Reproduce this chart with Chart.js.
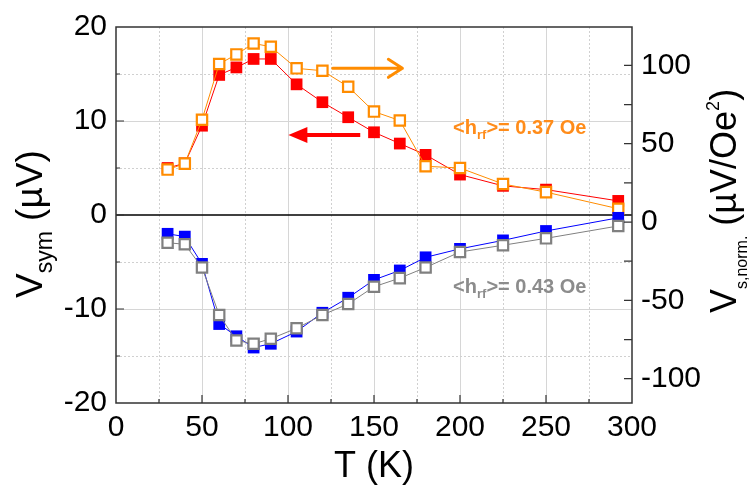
<!DOCTYPE html>
<html>
<head>
<meta charset="utf-8">
<script src="https://cdn.jsdelivr.net/npm/chart.js@4/dist/chart.umd.min.js"></script>
<style>
  html, body { margin: 0; padding: 0; background: #fff; }
  canvas { display: block; }
</style>
</head>
<body>
<canvas id="chart" width="752" height="488"></canvas>
<script>
// temperatures (K)
const temps = [30, 40, 50, 60, 70, 80, 90, 105, 120, 135, 150, 165, 180, 200, 225, 250, 292];

// V_sym (uV), left axis
const vsymRed = [5.0, 5.5, 9.5, 14.9, 15.7, 16.6, 16.6, 13.9, 12.0, 10.4, 8.8, 7.6, 6.4, 4.3, 3.1, 2.7, 1.5];
const vsymBlue = [-2.0, -2.3, -5.2, -11.6, -12.9, -14.1, -13.7, -12.4, -10.4, -8.8, -6.9, -5.9, -4.5, -3.6, -2.7, -1.7, -0.3];

// V_s,norm. (uV/Oe^2), right axis
const vnormOrange = [33.5, 37.3, 65.3, 100.9, 107, 114, 111.9, 98.1, 96.6, 86.4, 70.5, 64.8, 35.6, 34.5, 24.3, 19.1, 8.5];
const vnormGray = [-13.2, -14.2, -29.0, -59.3, -75.6, -77.7, -74.5, -67.8, -59.3, -52.3, -41.3, -35.8, -29.0, -19.1, -14.8, -10.4, -2.5];

// tick labels
const xTicks = [0, 50, 100, 150, 200, 250, 300];
const leftTicks = [-20, -10, 0, 10, 20];
const rightTicks = [-100, -50, 0, 50, 100];

const FONT = '"Liberation Sans", Arial, sans-serif';

const toPts = (ys) => temps.map((t, i) => ({ x: t, y: ys[i] }));

// arrows, in data units (x: K, y: left axis)
const orangeArrow = { from: 126, to: 166.5, y: 15.6 };
const redArrow = { from: 142, to: 100.2, y: 8.5 };

const decorPlugin = {
  id: "decor",
  beforeDatasetsDraw(chart) {
    const { ctx, chartArea: a, scales } = chart;
    const x = scales.x, y = scales.y;
    ctx.save();
    ctx.lineWidth = 1;
    // vertical grid every 25 K
    for (let t = 25; t < 300; t += 25) {
      const px = Math.round(x.getPixelForValue(t)) + 0.5;
      ctx.strokeStyle = t % 50 === 0 ? "#d6d6d6" : "#d0d0d0";
      ctx.setLineDash(t % 50 === 0 ? [] : [2, 2]);
      ctx.beginPath(); ctx.moveTo(px, a.top); ctx.lineTo(px, a.bottom); ctx.stroke();
    }
    // horizontal grid every 5 uV
    for (let v = -15; v <= 15; v += 5) {
      if (v === 0) continue;
      const py = Math.round(y.getPixelForValue(v)) + 0.5;
      ctx.strokeStyle = v % 10 === 0 ? "#d6d6d6" : "#d0d0d0";
      ctx.setLineDash(v % 10 === 0 ? [] : [2, 2]);
      ctx.beginPath(); ctx.moveTo(a.left, py); ctx.lineTo(a.right, py); ctx.stroke();
    }
    ctx.setLineDash([]);
    // zero line
    const z = y.getPixelForValue(0);
    ctx.strokeStyle = "#000";
    ctx.lineWidth = 1.5;
    ctx.beginPath(); ctx.moveTo(a.left, z); ctx.lineTo(a.right, z); ctx.stroke();
    ctx.restore();
  },
  afterDatasetsDraw(chart) {
    const { ctx, chartArea: a, scales } = chart;
    const x = scales.x, y = scales.y, y2 = scales.y2;
    ctx.save();

    // frame
    ctx.strokeStyle = "#333";
    ctx.lineWidth = 1.5;
    ctx.strokeRect(a.left, a.top, a.right - a.left, a.bottom - a.top);

    // inward tick marks
    ctx.lineWidth = 1.2;
    ctx.beginPath();
    for (let t = 25; t < 300; t += 25) {
      const px = x.getPixelForValue(t);
      const len = t % 50 === 0 ? 8 : 4;
      ctx.moveTo(px, a.bottom); ctx.lineTo(px, a.bottom - len);
    }
    for (let v = -15; v <= 15; v += 5) {
      const py = y.getPixelForValue(v);
      const len = v % 10 === 0 ? 8 : 4;
      ctx.moveTo(a.left, py); ctx.lineTo(a.left + len, py);
    }
    for (let v = -100; v <= 100; v += 25) {
      const py = y2.getPixelForValue(v);
      ctx.moveTo(a.right, py); ctx.lineTo(a.right - 8, py);
    }
    ctx.stroke();

    // orange arrow (points to right axis)
    const oy = y.getPixelForValue(orangeArrow.y);
    const ox1 = x.getPixelForValue(orangeArrow.from), ox2 = x.getPixelForValue(orangeArrow.to);
    ctx.strokeStyle = "#ff8c00";
    ctx.lineWidth = 3;
    ctx.lineCap = "round";
    ctx.lineJoin = "round";
    ctx.beginPath();
    ctx.moveTo(ox1, oy); ctx.lineTo(ox2, oy);
    ctx.moveTo(ox2 - 14, oy - 9); ctx.lineTo(ox2, oy); ctx.lineTo(ox2 - 14, oy + 9);
    ctx.stroke();

    // red arrow (points to left axis)
    const ry = y.getPixelForValue(redArrow.y);
    const rx1 = x.getPixelForValue(redArrow.from), rx2 = x.getPixelForValue(redArrow.to);
    ctx.strokeStyle = "#ff0000";
    ctx.fillStyle = "#ff0000";
    ctx.lineWidth = 4;
    ctx.lineCap = "butt";
    ctx.beginPath(); ctx.moveTo(rx1, ry); ctx.lineTo(rx2 + 14, ry); ctx.stroke();
    ctx.beginPath();
    ctx.moveTo(rx2, ry); ctx.lineTo(rx2 + 19, ry - 8); ctx.lineTo(rx2 + 19, ry + 8); ctx.closePath();
    ctx.fill();

    // field labels
    drawField(ctx, x.getPixelForValue(196), y.getPixelForValue(9.2), "0.37", "#ff8c1a");
    drawField(ctx, x.getPixelForValue(196), y.getPixelForValue(-7.7), "0.43", "#8c8c8c");
    ctx.restore();
  },
  afterDraw(chart) {
    const { ctx, chartArea: a } = chart;
    ctx.save();
    ctx.fillStyle = "#000";
    // x title
    ctx.font = "36px " + FONT;
    ctx.textAlign = "center";
    ctx.textBaseline = "alphabetic";
    ctx.fillText("T (K)", (a.left + a.right) / 2, 477);

    // left title, rotated
    drawRotated(ctx, 42, 298, [
      { t: "V", size: 37, dy: 0 },
      { t: "sym", size: 23, dy: 10 },
      { t: " (\u00b5V)", size: 37, dy: 0 }
    ]);
    // right title, rotated
    drawRotated(ctx, 736, 313, [
      { t: "V", size: 36, dy: 0 },
      { t: "s,norm.", size: 16, dy: 11 },
      { t: " (\u00b5V/Oe", size: 36, dy: 0 },
      { t: "2", size: 18, dy: -17 },
      { t: ")", size: 36, dy: 0 }
    ]);
    ctx.restore();
  }
};

function drawRotated(ctx, bx, by, parts) {
  ctx.save();
  ctx.translate(bx, by);
  ctx.rotate(-Math.PI / 2);
  ctx.textAlign = "left";
  ctx.textBaseline = "alphabetic";
  let cx = 0;
  parts.forEach((p) => {
    ctx.font = p.size + "px " + FONT;
    ctx.fillText(p.t, cx, p.dy);
    cx += ctx.measureText(p.t).width;
  });
  ctx.restore();
}

function drawField(ctx, px, py, val, color) {
  ctx.save();
  ctx.fillStyle = color;
  ctx.textAlign = "left";
  ctx.textBaseline = "middle";
  let cx = px;
  const parts = [
    { t: "<h", size: 20, dy: 0 },
    { t: "rf", size: 13, dy: 7 },
    { t: ">= " + val + " Oe", size: 20, dy: 0 }
  ];
  parts.forEach((p) => {
    ctx.font = "bold " + p.size + "px " + FONT;
    ctx.fillText(p.t, cx, py + p.dy);
    cx += ctx.measureText(p.t).width;
  });
  ctx.restore();
}

const tickFont = { family: FONT, size: 30 };

new Chart(document.getElementById("chart"), {
  type: "scatter",
  data: {
    datasets: [
      {
        label: "Vsym red",
        data: toPts(vsymRed),
        yAxisID: "y",
        showLine: true,
        borderColor: "#ff0000",
        borderWidth: 1,
        pointStyle: "rect",
        pointRadius: 8.3,
        pointBorderWidth: 0,
        pointBackgroundColor: "#ff0000",
        order: 4
      },
      {
        label: "Vnorm orange",
        data: toPts(vnormOrange),
        yAxisID: "y2",
        showLine: true,
        borderColor: "#ff8c00",
        borderWidth: 1,
        pointStyle: "rect",
        pointRadius: 7.3,
        pointBorderWidth: 2.2,
        pointBorderColor: "#ff8c00",
        pointBackgroundColor: "#ffffff",
        order: 3
      },
      {
        label: "Vsym blue",
        data: toPts(vsymBlue),
        yAxisID: "y",
        showLine: true,
        borderColor: "#0000ff",
        borderWidth: 1,
        pointStyle: "rect",
        pointRadius: 8.3,
        pointBorderWidth: 0,
        pointBackgroundColor: "#0000ff",
        order: 2
      },
      {
        label: "Vnorm gray",
        data: toPts(vnormGray),
        yAxisID: "y2",
        showLine: true,
        borderColor: "#808080",
        borderWidth: 1,
        pointStyle: "rect",
        pointRadius: 7.3,
        pointBorderWidth: 2.2,
        pointBorderColor: "#808080",
        pointBackgroundColor: "#ffffff",
        order: 1
      }
    ]
  },
  options: {
    responsive: false,
    animation: false,
    layout: { padding: { top: 25, left: 0, right: 0, bottom: 0 } },
    plugins: { legend: { display: false }, tooltip: { enabled: false } },
    scales: {
      x: {
        type: "linear",
        position: "bottom",
        min: 0,
        max: 300,
        afterBuildTicks: (s) => { s.ticks = xTicks.map((v) => ({ value: v })); },
        afterFit: (s) => { s.height = 85; },
        grid: { display: false, drawTicks: false },
        border: { display: false },
        ticks: { font: tickFont, color: "#000", padding: 7, maxRotation: 0, autoSkip: false }
      },
      y: {
        position: "left",
        min: -20,
        max: 20,
        afterBuildTicks: (s) => { s.ticks = leftTicks.map((v) => ({ value: v })); },
        afterFit: (s) => { s.width = 116; },
        grid: { display: false, drawTicks: false },
        border: { display: false },
        ticks: { font: tickFont, color: "#000", padding: 9, autoSkip: false }
      },
      y2: {
        position: "right",
        min: -115.5,
        max: 124.5,
        afterBuildTicks: (s) => { s.ticks = rightTicks.map((v) => ({ value: v })); },
        afterFit: (s) => { s.width = 120; },
        grid: { display: false, drawTicks: false },
        border: { display: false },
        ticks: { font: tickFont, color: "#000", padding: 9, autoSkip: false }
      }
    }
  },
  plugins: [decorPlugin]
});
</script>
</body>
</html>
